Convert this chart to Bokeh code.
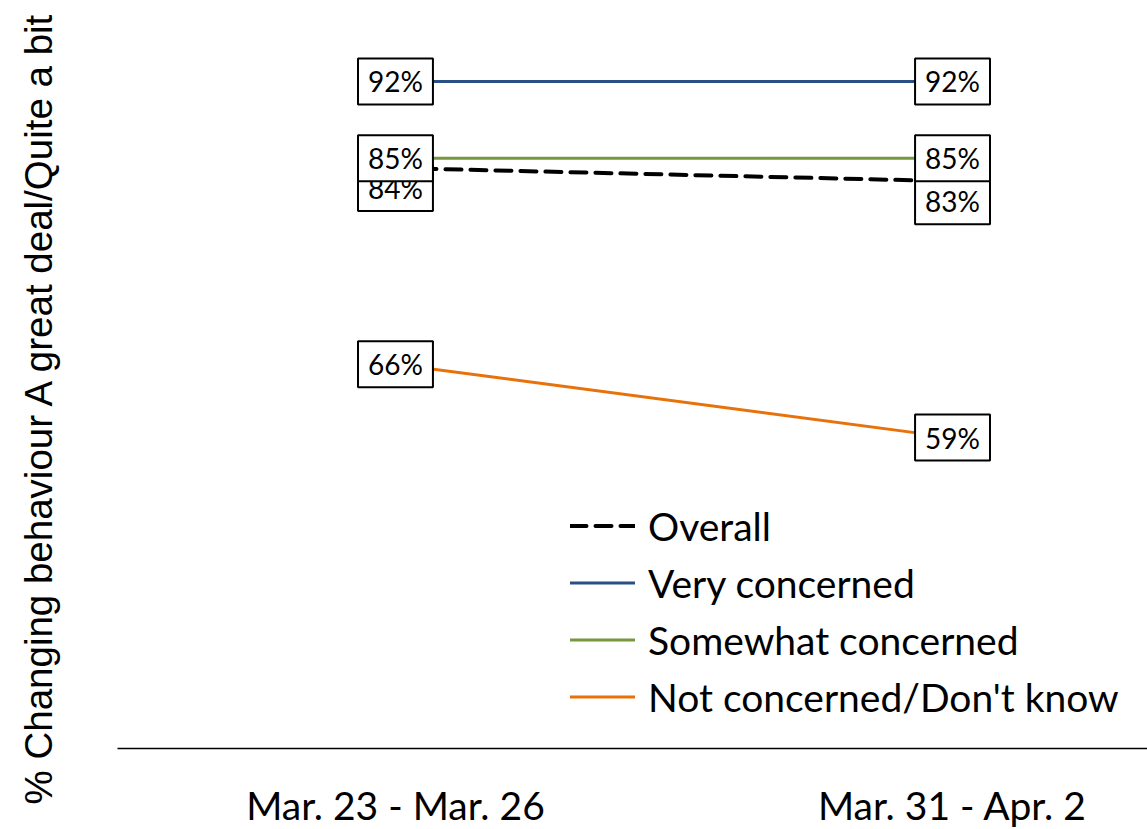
from bokeh.plotting import figure
from bokeh.layouts import row
from bokeh.models import (ColumnDataSource, Legend, LegendItem, Title,
                          FixedTicker, Range1d)
from bokeh.core.properties import value
from bokeh.embed import file_html
from bokeh.resources import INLINE

# ---- data ----
categories = ["Mar. 23 - Mar. 26", "Mar. 31 - Apr. 2"]
series_names = ["Overall", "Very concerned", "Somewhat concerned", "Not concerned/Don't know"]
overall = [84.1, 82.9]
overall_labels = ["84%", "83%"]
very_concerned = [92.0, 92.0]
very_labels = ["92%", "92%"]
somewhat_concerned = [85.0, 85.0]
somewhat_labels = ["85%", "85%"]
not_concerned = [66.2, 59.5]
not_labels = ["66%", "59%"]
y_title = "% Changing behaviour A great deal/Quite a bit"

FONT = "Lato"
xs = list(range(len(categories)))

# ---- left strip holding the rotated y-axis title ----
side = figure(width=117, height=829, output_backend="svg", toolbar_location=None,
              x_range=Range1d(0, 1), y_range=Range1d(0, 1),
              x_axis_location=None, y_axis_location=None,
              min_border_left=0, min_border_right=0, min_border_top=0, min_border_bottom=0)
side.outline_line_color = None
side.grid.visible = False
side.add_layout(Title(text=y_title, align="left", offset=-57, standoff=28,
                      vertical_align="bottom", text_font="Liberation Sans",
                      text_font_size="38.5px", text_font_style="normal",
                      text_color="black"), "left")

# ---- main chart ----
p = figure(frame_width=1030, frame_height=748, output_backend="svg", toolbar_location=None,
           x_range=Range1d(-0.499, 1.350), y_range=Range1d(31.13, 99.39),
           y_axis_location=None,
           min_border_left=0, min_border_right=0, min_border_top=0,
           min_border_bottom=81)
p.outline_line_color = None
p.grid.visible = False
p.background_fill_color = "white"
p.border_fill_color = "white"

xa = p.xaxis[0]
xa.ticker = FixedTicker(ticks=xs)
xa.major_label_overrides = {i: c for i, c in enumerate(categories)}
xa.major_tick_line_color = None
xa.minor_tick_line_color = None
xa.axis_line_color = "black"
xa.axis_line_width = 1.5
xa.major_label_text_font = FONT
xa.major_label_text_font_size = "39px"
xa.major_label_text_color = "black"
xa.major_label_standoff = 27

colors = ["black", "#2A4F85", "#77973D", "#E8710A"]
series = [overall, very_concerned, somewhat_concerned, not_concerned]
labels = [overall_labels, very_labels, somewhat_labels, not_labels]

renderers = []
for i, (vals, col) in enumerate(zip(series, colors)):
    if i == 0:
        r = p.line(xs, vals, line_color=col, line_width=4, line_dash="16 9", line_cap="round")
    else:
        r = p.line(xs, vals, line_color=col, line_width=3, line_cap="round")
    renderers.append(r)

# data labels (overall first so others sit on top)
for i, (vals, labs) in enumerate(zip(series, labels)):
    src = ColumnDataSource(dict(x=xs, y=vals, t=labs))
    p.text(x="x", y="y", text="t", source=src,
           text_align="center", text_baseline="middle",
           text_font=value(FONT), text_font_size="28px", text_color="black",
           background_fill_color="white", border_line_color="black",
           border_line_width=2, padding=(10, 6),
           y_offset=(20 if i == 0 else 0))

items = [LegendItem(label=n, renderers=[r]) for n, r in zip(series_names, renderers)]
legend = Legend(items=items, location=(453, 28), glyph_width=65, glyph_height=47,
                label_height=47, spacing=10, padding=0, margin=0,
                label_standoff=13, label_text_font=FONT, label_text_font_size="39px",
                label_text_color="black", border_line_color=None,
                background_fill_alpha=0)
p.add_layout(legend)

layout = row(side, p, spacing=0)
open("out.html", "w").write(file_html(layout, INLINE))
